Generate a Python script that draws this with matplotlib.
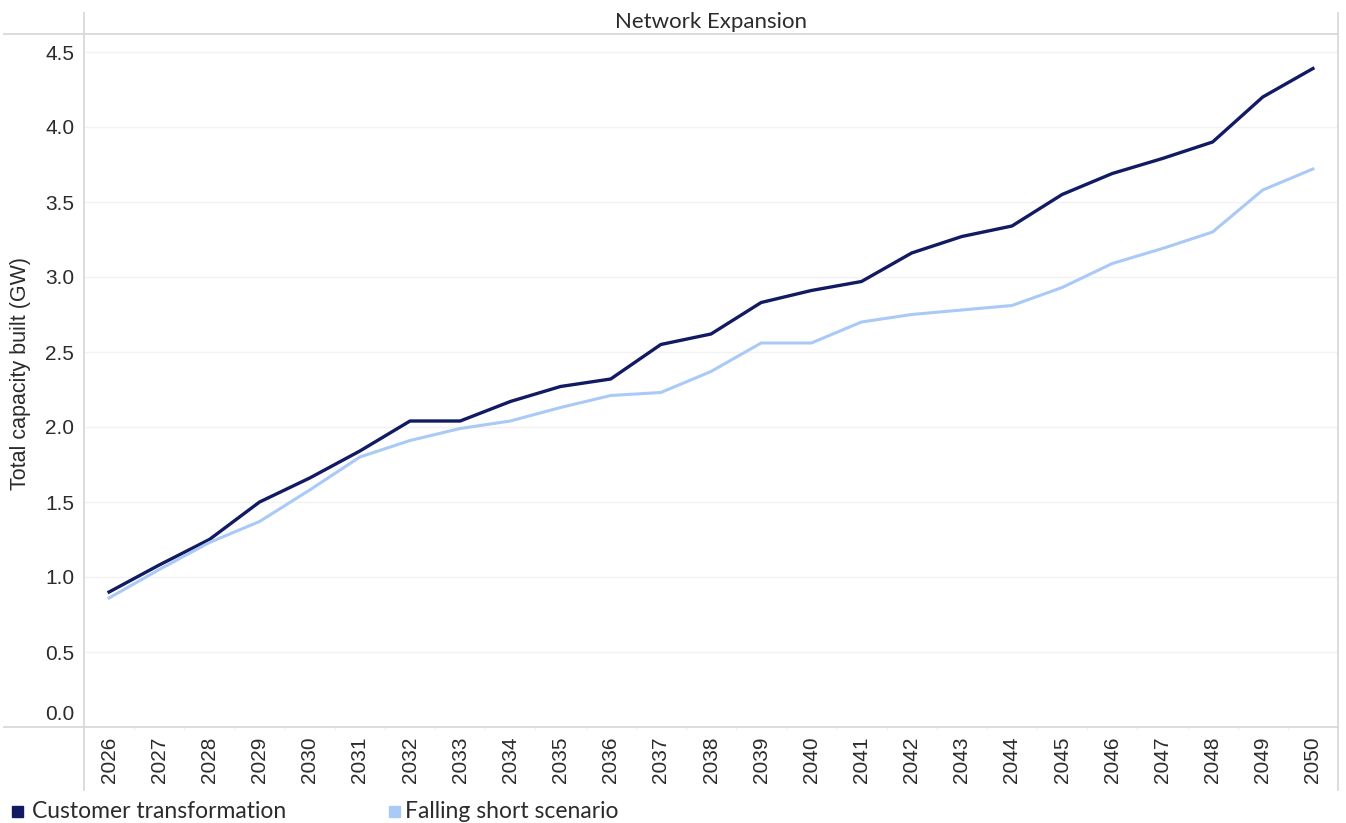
import matplotlib.pyplot as plt
from matplotlib.lines import Line2D
from matplotlib.patches import Rectangle
from matplotlib.transforms import ScaledTranslation

plt.rcParams['font.family'] = ['Liberation Sans', 'DejaVu Sans']

# data
years = list(range(2026, 2051))
customer_transformation = [0.90, 1.08, 1.25, 1.50, 1.66, 1.84, 2.04, 2.04, 2.17, 2.27,
                           2.32, 2.55, 2.62, 2.83, 2.91, 2.97, 3.16, 3.27, 3.34, 3.55,
                           3.69, 3.79, 3.90, 4.20, 4.39]
falling_short = [0.86, 1.05, 1.23, 1.37, 1.58, 1.80, 1.91, 1.99, 2.04, 2.13,
                 2.21, 2.23, 2.37, 2.56, 2.56, 2.70, 2.75, 2.78, 2.81, 2.93,
                 3.09, 3.19, 3.30, 3.58, 3.72]
y_ticks = [0.0, 0.5, 1.0, 1.5, 2.0, 2.5, 3.0, 3.5, 4.0, 4.5]

dark = '#111a62'
light = '#a9c9f6'
frame = '#d9d9d9'
text_col = '#2b2b2b'

W, H = 1346, 823
fig = plt.figure(figsize=(W / 100, H / 100), dpi=100)
ax = fig.add_axes([84 / W, 1 - 727 / H, (1338 - 84) / W, (727 - 34) / H])

x = list(range(len(years)))
ax.plot(x, customer_transformation, color=dark, lw=2.4, solid_joinstyle='round')
ax.plot(x, falling_short, color=light, lw=2.2, solid_joinstyle='round')

ax.set_xlim(-0.5, len(years) - 0.5)
ax.set_ylim(0, 4.62)
ax.set_yticks(y_ticks)
ax.set_yticklabels([f"{v:.1f}" for v in y_ticks])
ax.set_xticks(x)
ax.set_xticklabels([str(y) for y in years], rotation=90)
ax.set_xticks([i - 0.5 for i in x[1:]], minor=True)
ax.tick_params(axis='y', length=0, pad=7, labelsize=15, labelcolor=text_col)
ax.tick_params(axis='x', which='major', length=0, pad=7, labelsize=15, labelcolor=text_col)
ax.tick_params(axis='x', which='minor', length=2, color='#f3f3f3', width=1)
ax.grid(axis='y', color='#f2f2f2', lw=1)
ax.set_axisbelow(True)
for s in ax.spines.values():
    s.set_visible(False)

# lift the 0.0 label above the axis line
lbl0 = ax.get_yticklabels()[0]
lbl0.set_transform(lbl0.get_transform() + ScaledTranslation(0, 14 / 100, fig.dpi_scale_trans))

ax.set_ylabel("Total capacity built (GW)", fontsize=15.5, color=text_col)
ax.yaxis.set_label_coords(-53 / (1338 - 84), 0.51)

# frame lines
def fline(x0, y0, x1, y1):
    fig.add_artist(Line2D([x0 / W, x1 / W], [1 - y0 / H, 1 - y1 / H], color=frame, lw=1.3))

fline(84, 13, 84, 790)
fline(1338, 13, 1338, 790)
fline(4, 34, 1338, 34)
fline(4, 727, 1338, 727)

fig.text(711 / W, 1 - 22 / H, "Network Expansion", ha='center', va='center',
         fontsize=16, color=text_col, family='Lato')

# legend
for sx, col in [(12, dark), (389, light)]:
    fig.add_artist(Rectangle((sx / W, 1 - 817 / H), 11 / W, 11 / H,
                             color=col, transform=fig.transFigure))
fig.text(32 / W, 1 - 811 / H, "Customer transformation", color=text_col, fontsize=16.5,
         va='center', ha='left', family='Lato')
fig.text(405 / W, 1 - 811 / H, "Falling short scenario", color=text_col, fontsize=16.5,
         va='center', ha='left', family='Lato')

fig.savefig("out.png", dpi=100)
